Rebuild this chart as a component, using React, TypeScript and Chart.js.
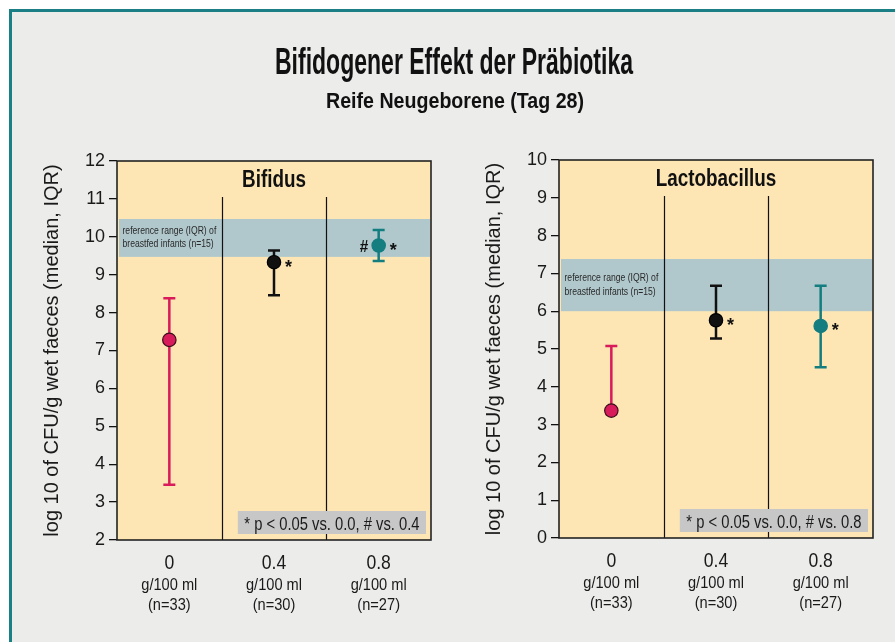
import React, { useEffect, useRef } from "react";
import { Chart, registerables } from "chart.js";
Chart.register(...registerables);

// ---------- data ----------
const mainTitle = "Bifidogener Effekt der Präbiotika";
const subTitle = "Reife Neugeborene (Tag 28)";
const yAxisTitle = "log 10 of CFU/g wet faeces (median, IQR)";
const doses = ["0", "0.4", "0.8"];
const doseUnits = ["g/100 ml", "g/100 ml", "g/100 ml"];
const groupSizes = ["(n=33)", "(n=30)", "(n=27)"];
const bandLabel = ["reference range (IQR) of", "breastfed infants (n=15)"];

const bifidusMedian = [7.28, 9.33, 9.77];
const bifidusQ1 = [3.46, 8.46, 9.36];
const bifidusQ3 = [8.38, 9.64, 10.18];
const bifidusRefRange = [9.47, 10.47];
const bifidusStars = ["", "*", "*"];
const bifidusHashes = ["", "", "#"];
const bifidusYRange = [2, 12];
const bifidusFootnote = "* p < 0.05 vs. 0.0, # vs. 0.4";

const lactoMedian = [3.37, 5.76, 5.61];
const lactoQ1 = [3.28, 5.28, 4.52];
const lactoQ3 = [5.08, 6.67, 6.67];
const lactoRefRange = [6.0, 7.38];
const lactoStars = ["", "*", "*"];
const lactoHashes = ["", "", ""];
const lactoYRange = [0, 10];
const lactoFootnote = "* p < 0.05 vs. 0.0, # vs. 0.8";

// ---------- styles ----------
const W = 895;
const H = 642;
const PAGE_BG = "#ECEDEB";
const FRAME = "#1B7F86";
const PLOT_BG = "#FEE6B4";
const BAND = "#B0C8CC";
const NOTE_BG = "#C6C7C6";
const TEXT = "#1a1a1a";
const pointColors = ["#D81B5A", "#111111", "#137D80"];
const pointBorders = ["#3a0d1a", "#000000", "#137D80"];
const SANS = "'Liberation Sans', Arial, sans-serif";
const NARROW = "'Liberation Sans Narrow', 'Liberation Sans', Arial, sans-serif";
const CONDENSE = 0.82;

type Panel = {
  title: string;
  median: number[];
  q1: number[];
  q3: number[];
  ref: number[];
  stars: string[];
  hashes: string[];
  yRange: number[];
  footnote: string;
  pad: { left: number; right: number; top: number; bottom: number };
  main: boolean;
};

function drawText(
  ctx: CanvasRenderingContext2D,
  text: string,
  x: number,
  y: number,
  font: string,
  color: string,
  align: CanvasTextAlign,
  sx = CONDENSE
) {
  ctx.save();
  ctx.font = font;
  ctx.fillStyle = color;
  ctx.textAlign = align;
  ctx.textBaseline = "alphabetic";
  ctx.translate(x, y);
  ctx.scale(sx, 1);
  ctx.fillText(text, 0, 0);
  ctx.restore();
}

function fitText(
  ctx: CanvasRenderingContext2D,
  text: string,
  cx: number,
  y: number,
  font: string,
  width: number
) {
  ctx.save();
  ctx.font = font;
  const m = ctx.measureText(text).width;
  ctx.restore();
  drawText(ctx, text, cx, y, font, "#111", "center", width / m);
}

const panelPlugin = (p: Panel) => ({
  id: "panelDeco",
  beforeDraw(chart: any) {
    const { ctx, chartArea: a } = chart;
    ctx.save();
    ctx.fillStyle = PLOT_BG;
    ctx.fillRect(a.left, a.top, a.right - a.left, a.bottom - a.top);
    ctx.restore();
    if (p.main) {
      fitText(ctx, mainTitle, 454, 74, `bold 36px ${NARROW}`, 358);
      fitText(ctx, subTitle, 455, 108, `bold 22px ${NARROW}`, 258);
    }
  },
  beforeDatasetsDraw(chart: any) {
    const { ctx, chartArea: a } = chart;
    const x = chart.scales.x;
    const y = chart.scales.y;
    ctx.save();
    // reference band
    const bTop = y.getPixelForValue(p.ref[1]);
    const bBot = y.getPixelForValue(p.ref[0]);
    ctx.fillStyle = BAND;
    ctx.fillRect(a.left + 2, bTop, a.right - a.left - 3, bBot - bTop);
    const mid = (bTop + bBot) / 2;
    drawText(ctx, bandLabel[0], a.left + 5.5, mid - 4, `10.5px ${SANS}`, "#2a2a2a", "left");
    drawText(ctx, bandLabel[1], a.left + 5.5, mid + 9.5, `10.5px ${SANS}`, "#2a2a2a", "left");
    // dividers
    ctx.strokeStyle = "#111";
    ctx.lineWidth = 1.2;
    for (let i = 0; i < doses.length - 1; i++) {
      const xd = Math.round((x.getPixelForValue(i) + x.getPixelForValue(i + 1)) / 2) + 0.5;
      ctx.beginPath();
      ctx.moveTo(xd, a.top + 36);
      ctx.lineTo(xd, a.bottom);
      ctx.stroke();
    }
    // IQR whiskers
    for (let i = 0; i < doses.length; i++) {
      const px = x.getPixelForValue(i);
      const y1 = y.getPixelForValue(p.q1[i]);
      const y3 = y.getPixelForValue(p.q3[i]);
      ctx.strokeStyle = pointColors[i];
      ctx.lineWidth = 2.5;
      ctx.beginPath();
      ctx.moveTo(px, y1);
      ctx.lineTo(px, y3);
      ctx.moveTo(px - 6, y1);
      ctx.lineTo(px + 6, y1);
      ctx.moveTo(px - 6, y3);
      ctx.lineTo(px + 6, y3);
      ctx.stroke();
    }
    ctx.restore();
  },
  afterDatasetsDraw(chart: any) {
    const { ctx, chartArea: a } = chart;
    const x = chart.scales.x;
    const y = chart.scales.y;
    ctx.save();
    // frame of the plot area
    ctx.strokeStyle = "#222";
    ctx.lineWidth = 1.6;
    ctx.strokeRect(a.left, a.top, a.right - a.left, a.bottom - a.top);
    // significance marks
    for (let i = 0; i < doses.length; i++) {
      const px = x.getPixelForValue(i);
      const py = y.getPixelForValue(p.median[i]);
      if (p.stars[i]) drawText(ctx, p.stars[i], px + 11, py + 10.5, `bold 18px ${SANS}`, "#111", "left", 1);
      if (p.hashes[i]) drawText(ctx, p.hashes[i], px - 10.5, py + 6, `bold 17px ${SANS}`, "#111", "right", 0.9);
    }
    // panel title
    drawText(ctx, p.title, (a.left + a.right) / 2, a.top + 25.7, `bold 23px ${SANS}`, "#111", "center");
    // footnote box
    ctx.font = `18px ${SANS}`;
    const tw = ctx.measureText(p.footnote).width * CONDENSE;
    const boxR = a.right - 5;
    const boxB = a.bottom - 6;
    const boxW = tw + 13;
    ctx.fillStyle = NOTE_BG;
    ctx.fillRect(boxR - boxW, boxB - 23, boxW, 23);
    drawText(ctx, p.footnote, boxR - boxW + 6.5, boxB - 4.5, `18px ${SANS}`, "#1a1a1a", "left");
    // x labels
    for (let i = 0; i < doses.length; i++) {
      const px = x.getPixelForValue(i);
      drawText(ctx, doses[i], px, a.bottom + 28.5, `20px ${SANS}`, TEXT, "center", 0.88);
      drawText(ctx, doseUnits[i], px, a.bottom + 49.5, `17px ${SANS}`, TEXT, "center", 0.86);
      drawText(ctx, groupSizes[i], px, a.bottom + 70, `17px ${SANS}`, TEXT, "center", 0.86);
    }
    ctx.restore();
  },
});

function makeConfig(p: Panel): any {
  return {
    type: "line",
    data: {
      labels: doses,
      datasets: [
        {
          data: p.median,
          showLine: false,
          pointRadius: 6.7,
          pointHoverRadius: 6.7,
          pointBackgroundColor: pointColors,
          pointBorderColor: pointBorders,
          pointBorderWidth: 1.2,
        },
      ],
    },
    options: {
      responsive: false,
      animation: false,
      events: [],
      layout: { padding: p.pad },
      plugins: {
        legend: { display: false },
        tooltip: { enabled: false },
        title: { display: false },
      },
      scales: {
        x: {
          type: "category",
          offset: true,
          grid: { display: false },
          border: { display: false },
          ticks: { display: false },
          afterFit: (s: any) => {
            s.height = 0;
          },
        },
        y: {
          type: "linear",
          min: p.yRange[0],
          max: p.yRange[1],
          ticks: {
            stepSize: 1,
            padding: 4,
            color: TEXT,
            font: { family: NARROW, size: 18 },
          },
          grid: {
            display: true,
            drawOnChartArea: false,
            drawTicks: true,
            tickLength: 8,
            color: "#111",
            lineWidth: 1.3,
          },
          border: { display: false },
          title: {
            display: true,
            text: yAxisTitle,
            color: TEXT,
            font: { family: SANS, size: 20 },
            padding: { top: 20, bottom: 0 },
          },
          afterFit: (s: any) => {
            s.width = 97;
          },
        },
      },
    },
    plugins: [panelPlugin(p)],
  };
}

const leftPanel: Panel = {
  title: "Bifidus",
  median: bifidusMedian,
  q1: bifidusQ1,
  q3: bifidusQ3,
  ref: bifidusRefRange,
  stars: bifidusStars,
  hashes: bifidusHashes,
  yRange: bifidusYRange,
  footnote: bifidusFootnote,
  pad: { left: 20, right: W - 431, top: 161, bottom: H - 540 },
  main: true,
};

const rightPanel: Panel = {
  title: "Lactobacillus",
  median: lactoMedian,
  q1: lactoQ1,
  q3: lactoQ3,
  ref: lactoRefRange,
  stars: lactoStars,
  hashes: lactoHashes,
  yRange: lactoYRange,
  footnote: lactoFootnote,
  pad: { left: 462, right: W - 873, top: 160, bottom: H - 538 },
  main: false,
};

function PanelCanvas({ panel }: { panel: Panel }) {
  const ref = useRef<HTMLCanvasElement | null>(null);
  useEffect(() => {
    if (!ref.current) return;
    const chart = new Chart(ref.current, makeConfig(panel));
    return () => chart.destroy();
  }, [panel]);
  return (
    <canvas
      ref={ref}
      width={W}
      height={H}
      style={{ position: "absolute", left: 0, top: 0, width: W, height: H, pointerEvents: "none" }}
    />
  );
}

export default function App() {
  return (
    <div
      style={{
        position: "fixed",
        left: 0,
        top: 0,
        width: W,
        height: H,
        overflow: "hidden",
        background: "#ffffff",
      }}
    >
      <div
        style={{
          position: "absolute",
          left: 9,
          top: 9,
          width: 940,
          height: 700,
          border: `3px solid ${FRAME}`,
          background: PAGE_BG,
        }}
      />
      <PanelCanvas panel={leftPanel} />
      <PanelCanvas panel={rightPanel} />
    </div>
  );
}
